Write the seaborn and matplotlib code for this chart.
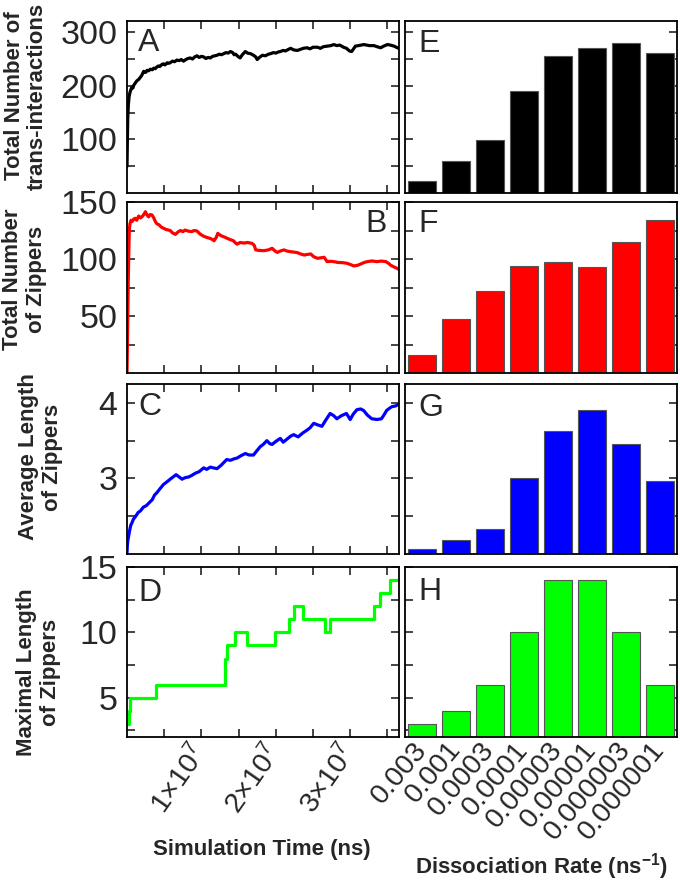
import numpy as np
import pandas as pd
import matplotlib
matplotlib.use("Agg")
import matplotlib.pyplot as plt
import seaborn as sns

sns.set_style("ticks")
plt.rcParams['font.family'] = ['Liberation Sans', 'DejaVu Sans']
plt.rcParams['mathtext.fontset'] = 'custom'
plt.rcParams['mathtext.rm'] = 'Liberation Sans'
plt.rcParams['mathtext.bf'] = 'Liberation Sans:bold'
plt.rcParams['mathtext.it'] = 'Liberation Sans:italic'

# ---------------- data ----------------
rates = ["0.003", "0.001", "0.0003", "0.0001", "0.00003", "0.00001", "0.000003", "0.000001"]
trans_bars = [22, 60, 99, 190, 255, 270, 279, 262]
zipper_bars = [16, 47, 72, 94, 97, 93, 115, 134]
avg_len_bars = [2.06, 2.19, 2.33, 3.01, 3.63, 3.91, 3.46, 2.96]
max_len_bars = [3, 4, 6, 10, 14, 14, 10, 6]

# time in units of 1e7 ns
t_trans = [0.000, 0.005, 0.010, 0.018, 0.028, 0.040, 0.055, 0.067, 0.080, 0.090, 0.110, 0.130,
           0.157, 0.180, 0.200, 0.224, 0.250, 0.270, 0.290, 0.314, 0.340, 0.360, 0.380, 0.400,
           0.420, 0.440, 0.470, 0.490, 0.510, 0.540, 0.560, 0.580, 0.610, 0.640, 0.670, 0.700,
           0.730, 0.760, 0.790, 0.820, 0.850, 0.880, 0.910, 0.940, 0.970, 1.000, 1.030, 1.060,
           1.090, 1.120, 1.150, 1.180, 1.210, 1.240, 1.270, 1.300, 1.330, 1.360, 1.390, 1.420,
           1.440, 1.460, 1.490, 1.520, 1.550, 1.590, 1.620, 1.660, 1.700, 1.730, 1.750, 1.780,
           1.820, 1.860, 1.900, 1.930, 1.970, 2.000, 2.030, 2.060, 2.100, 2.130, 2.170, 2.200,
           2.240, 2.290, 2.330, 2.370, 2.420, 2.460, 2.500, 2.560, 2.600, 2.640, 2.690, 2.740,
           2.780, 2.820, 2.860, 2.910, 2.950, 2.990, 3.020, 3.050, 3.070, 3.110, 3.150, 3.180,
           3.220, 3.260, 3.320, 3.360, 3.410, 3.450, 3.500, 3.540, 3.590, 3.620, 3.650]
v_trans = [50, 100, 140, 165, 180, 188, 194, 198, 196, 201, 205, 209,
           212, 216, 220, 227, 225, 229, 228, 231, 230, 233, 232, 235,
           237, 236, 240, 241, 239, 243, 242, 243, 246, 245, 248, 247,
           249, 246, 249, 251, 252, 250, 254, 256, 253, 255, 254, 251,
           253, 252, 255, 256, 257, 259, 258, 260, 262, 261, 264, 262,
           258, 259, 255, 252, 258, 264, 261, 260, 257, 254, 249, 253,
           257, 256, 259, 260, 262, 261, 263, 264, 266, 265, 268, 270,
           267, 266, 268, 270, 271, 269, 272, 272, 270, 273, 274, 275,
           277, 275, 276, 272, 270, 265, 264, 270, 274, 275, 276, 277,
           276, 275, 275, 273, 271, 274, 277, 276, 274, 272, 270]

t_zip = [0.000, 0.008, 0.016, 0.022, 0.030, 0.040, 0.054, 0.070, 0.090, 0.110, 0.130, 0.157,
         0.180, 0.200, 0.225, 0.247, 0.265, 0.290, 0.310, 0.336, 0.360, 0.380, 0.400, 0.430,
         0.460, 0.490, 0.520, 0.550, 0.580, 0.610, 0.650, 0.690, 0.720, 0.750, 0.780, 0.820,
         0.870, 0.900, 0.940, 0.980, 1.030, 1.070, 1.120, 1.150, 1.170, 1.200, 1.220, 1.250,
         1.280, 1.320, 1.350, 1.390, 1.430, 1.460, 1.480, 1.520, 1.570, 1.620, 1.680, 1.710,
         1.730, 1.780, 1.840, 1.900, 1.950, 1.990, 2.020, 2.060, 2.110, 2.150, 2.200, 2.250,
         2.290, 2.330, 2.380, 2.420, 2.470, 2.510, 2.560, 2.600, 2.650, 2.690, 2.740, 2.800,
         2.830, 2.900, 2.960, 3.010, 3.050, 3.100, 3.140, 3.190, 3.230, 3.290, 3.360, 3.420,
         3.480, 3.520, 3.540, 3.590, 3.630, 3.650]
v_zip = [1, 40, 80, 100, 125, 131, 134, 133, 135, 135.7, 134, 137.7,
         136, 137, 139, 141.5, 139, 137, 139, 138.6, 136, 133, 131, 130,
         128, 127, 126, 125.5, 125, 123, 121.6, 124, 125, 124, 125.4, 124.5,
         124, 125, 124.6, 122, 120, 119, 118, 117, 116, 119, 122.5, 121,
         120, 119, 118, 117, 116, 114, 113, 114.5, 114, 114.5, 113.7, 112,
         108, 107.5, 107.3, 108, 109.4, 107, 105.8, 107, 108, 107, 106.4, 106,
         105.6, 104.5, 103.5, 104, 104.4, 102, 100.6, 101, 101.5, 97.7, 98, 97.5,
         97, 96.8, 96.2, 95, 93.9, 94.5, 95.6, 97, 97.7, 98.3, 97.7, 98.2,
         97.7, 96, 94.7, 93, 91.8, 91]

t_avg = [0.000, 0.005, 0.010, 0.022, 0.035, 0.050, 0.070, 0.085, 0.110, 0.150, 0.180, 0.220,
         0.260, 0.310, 0.340, 0.370, 0.400, 0.440, 0.490, 0.530, 0.580, 0.620, 0.660, 0.700,
         0.740, 0.780, 0.830, 0.870, 0.920, 0.970, 1.030, 1.070, 1.120, 1.160, 1.210, 1.260,
         1.300, 1.340, 1.390, 1.440, 1.480, 1.530, 1.590, 1.640, 1.700, 1.740, 1.790, 1.830,
         1.880, 1.920, 1.950, 2.000, 2.060, 2.100, 2.150, 2.200, 2.240, 2.300, 2.360, 2.420,
         2.460, 2.510, 2.560, 2.620, 2.670, 2.730, 2.780, 2.820, 2.880, 2.950, 3.000, 3.040,
         3.090, 3.140, 3.180, 3.230, 3.290, 3.360, 3.420, 3.460, 3.490, 3.530, 3.560, 3.610,
         3.650]
v_avg = [2.02, 2.12, 2.17, 2.24, 2.31, 2.38, 2.42, 2.46, 2.49, 2.55, 2.57, 2.62,
         2.64, 2.69, 2.72, 2.78, 2.81, 2.86, 2.92, 2.95, 2.99, 3.02, 3.05, 3.02,
         2.99, 3.01, 3.02, 3.04, 3.07, 3.09, 3.14, 3.12, 3.15, 3.14, 3.13, 3.17,
         3.21, 3.25, 3.24, 3.26, 3.27, 3.30, 3.33, 3.31, 3.31, 3.36, 3.42, 3.45,
         3.50, 3.46, 3.45, 3.49, 3.53, 3.48, 3.52, 3.56, 3.58, 3.55, 3.60, 3.64,
         3.67, 3.73, 3.71, 3.69, 3.77, 3.86, 3.83, 3.79, 3.83, 3.86, 3.78, 3.85,
         3.91, 3.92, 3.90, 3.84, 3.79, 3.78, 3.79, 3.85, 3.90, 3.93, 3.95, 3.96,
         3.98]

t_max = [0.0, 0.022, 0.04, 0.386, 1.318, 1.34, 1.453, 1.619, 1.991, 2.175, 2.238, 2.363, 2.664,
         2.722, 3.314, 3.40, 3.529, 3.65]
v_max = [3, 4, 5, 6, 8, 9, 10, 9, 10, 11, 12, 11, 10, 11, 12, 13, 14, 14]

ylabels = ["Total Number of\ntrans-interactions", "Total Number\nof Zippers",
           "Average Length\nof Zippers", "Maximal Length\nof Zippers"]
left_letters = ["A", "B", "C", "D"]
right_letters = ["E", "F", "G", "H"]
colors = ["#000000", "#ff0000", "#0000ff", "#00ff00"]
time_ticks = [1, 2, 3]
time_ticklabels = [r"$1{\times}10^{7}$", r"$2{\times}10^{7}$", r"$3{\times}10^{7}$"]

# ---------------- layout ----------------
fig = plt.figure(figsize=(6.8, 8.81), dpi=100)
left_x, left_w = 0.1868, 0.3993
right_x, right_w = 0.5956, 0.400
rows = [(0.7809, 0.1947), (0.5766, 0.1941), (0.3712, 0.1929), (0.1635, 0.1929)]

series = [(t_trans, v_trans), (t_zip, v_zip), (t_avg, v_avg), (t_max, v_max)]
bars = [trans_bars, zipper_bars, avg_len_bars, max_len_bars]
ylims = [(0, 320), (0, 150), (2.0, 4.25), (2, 15)]
majors = [[100, 200, 300], [50, 100, 150], [3, 4], [5, 10, 15]]
minors = [[50, 150, 250], [25, 75, 125], [2.5, 3.5], [2.5, 7.5, 12.5]]
ylabel_pos = [(26, 96), (24.5, 279), (40.5, 457), (38.5, 672)]
letter_base_left = [0.828, 0.825, 0.818, 0.800]
letter_base_right = [0.824, 0.826, 0.810, 0.806]

YT = 24.5
XT = 20.5

for i in range(4):
    b, h = rows[i]
    axL = fig.add_axes([left_x, b, left_w, h])
    axR = fig.add_axes([right_x, b, right_w, h])

    t, v = series[i]
    df = pd.DataFrame({"t": np.array(t) * 1e7, "v": v})
    kw = dict(drawstyle="steps-post") if i == 3 else {}
    sns.lineplot(data=df, x="t", y="v", ax=axL, color=colors[i], linewidth=2.3,
                 estimator=None, sort=False, **kw)

    dfb = pd.DataFrame({"rate": rates, "val": bars[i]})
    sns.barplot(data=dfb, x="rate", y="val", ax=axR, color=colors[i], saturation=1,
                edgecolor="#555555", linewidth=0.8, width=0.8)

    for ax in (axL, axR):
        ax.set_ylim(*ylims[i])
        ax.set_yticks(majors[i])
        ax.set_yticks(minors[i], minor=True)
        ax.set_xlabel("")
        ax.set_ylabel("")
        for s in ax.spines.values():
            s.set_visible(True)
            s.set_linewidth(1.3)
            s.set_color("black")
        ax.tick_params(axis="y", which="both", direction="in", left=True, right=True,
                       length=6, width=1.2, labelsize=YT, pad=7)

    axL.set_yticklabels([str(m) for m in majors[i]])
    axR.tick_params(axis="y", which="both", labelleft=False)

    axL.set_xlim(0, 3.65e7)
    axL.set_xticks([x * 1e7 for x in time_ticks])
    axL.set_xticks([0.5e7, 1.5e7, 2.5e7, 3.5e7], minor=True)
    axL.tick_params(axis="x", which="both", direction="in", top=True, bottom=True,
                    length=6, width=1.2)
    axR.set_xlim(-0.5, 7.5)
    axR.tick_params(axis="x", which="both", length=0)

    if i == 3:
        axL.set_xticklabels(time_ticklabels, rotation=55, ha="right", va="center",
                            rotation_mode="anchor", fontsize=XT)
        axL.tick_params(axis="x", pad=8)
        axR.set_xticklabels(rates, rotation=50, ha="right", va="center",
                            rotation_mode="anchor", fontsize=XT)
        axR.tick_params(axis="x", pad=6)
    else:
        axL.set_xticklabels([])
        axR.set_xticklabels([])

    if i == 1:
        axL.text(0.958, letter_base_left[i], left_letters[i], transform=axL.transAxes,
                 ha="right", va="baseline", fontsize=23)
    else:
        axL.text(0.04, letter_base_left[i], left_letters[i], transform=axL.transAxes,
                 ha="left", va="baseline", fontsize=23)
    axR.text(0.05, letter_base_right[i], right_letters[i], transform=axR.transAxes,
             ha="left", va="baseline", fontsize=23)

    px, py = ylabel_pos[i]
    fig.text(px / 680, 1 - py / 881, ylabels[i], rotation=90, ha="center", va="center",
             multialignment="center", fontsize=16, fontweight="bold", linespacing=1.15)

fig.text(261.5 / 680, 1 - 849 / 881, "Simulation Time (ns)", ha="center", va="center",
         fontsize=16, fontweight="bold")
fig.text(541.5 / 680, 1 - 867 / 881, r"Dissociation Rate (ns$^{\mathbf{-1}}$)", ha="center",
         va="center", fontsize=16, fontweight="bold")

fig.savefig("out.png", dpi=100)
